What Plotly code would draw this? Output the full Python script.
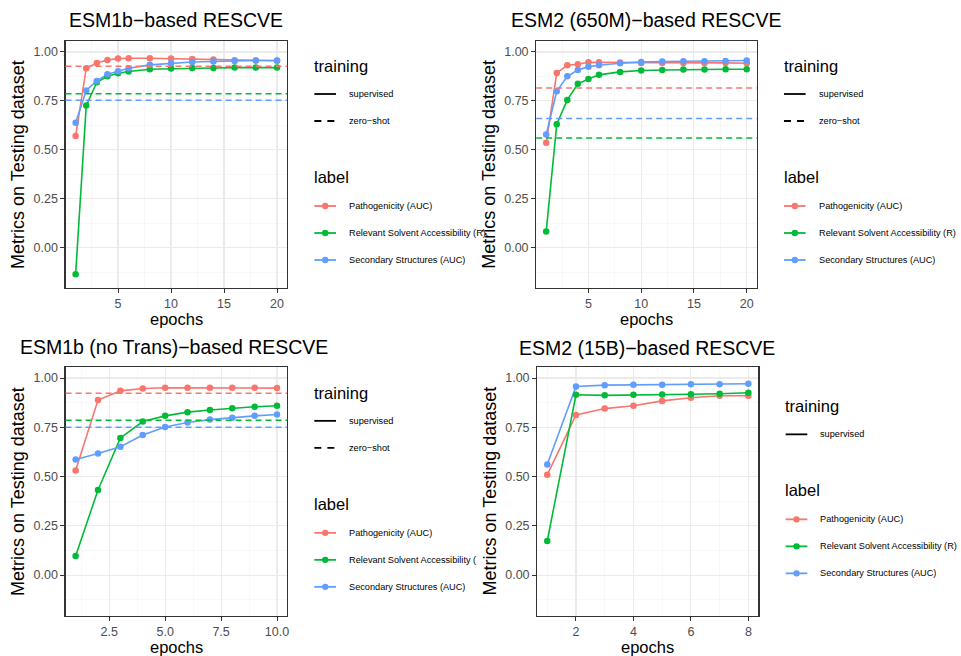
import plotly.graph_objects as go

W, H = 961, 656

# ---------------- data ----------------
labels = ["Pathogenicity (AUC)", "Relevant Solvent Accessibility (R)", "Secondary Structures (AUC)"]
colors = ["#F8766D", "#00BA38", "#619CFF"]

titles = ["ESM1b\u2212based RESCVE", "ESM2 (650M)\u2212based RESCVE",
          "ESM1b (no Trans)\u2212based RESCVE", "ESM2 (15B)\u2212based RESCVE"]

epochs_esm1b = [1, 2, 3, 4, 5, 6, 8, 10, 12, 14, 16, 18, 20]
esm1b_patho = [0.570, 0.917, 0.944, 0.959, 0.966, 0.968, 0.968, 0.966, 0.964, 0.961, 0.957, 0.956, 0.955]
esm1b_rsa = [-0.136, 0.726, 0.845, 0.876, 0.891, 0.900, 0.912, 0.915, 0.918, 0.918, 0.920, 0.920, 0.920]
esm1b_ss = [0.638, 0.803, 0.852, 0.886, 0.901, 0.917, 0.934, 0.942, 0.949, 0.951, 0.954, 0.956, 0.956]
esm1b_zeroshot = [0.927, 0.787, 0.753]

epochs_esm2_650m = [1, 2, 3, 4, 5, 6, 8, 10, 12, 14, 16, 18, 20]
esm2_650m_patho = [0.536, 0.893, 0.932, 0.937, 0.947, 0.947, 0.946, 0.944, 0.944, 0.944, 0.944, 0.944, 0.942]
esm2_650m_rsa = [0.083, 0.631, 0.755, 0.837, 0.862, 0.883, 0.898, 0.905, 0.908, 0.910, 0.910, 0.912, 0.912]
esm2_650m_ss = [0.578, 0.799, 0.876, 0.908, 0.925, 0.932, 0.942, 0.949, 0.951, 0.952, 0.952, 0.954, 0.956]
esm2_650m_zeroshot = [0.816, 0.560, 0.660]

epochs_notrans = [1, 2, 3, 4, 5, 6, 7, 8, 9, 10]
notrans_patho = [0.531, 0.888, 0.935, 0.947, 0.951, 0.951, 0.951, 0.951, 0.951, 0.949]
notrans_rsa = [0.097, 0.432, 0.696, 0.779, 0.808, 0.827, 0.838, 0.847, 0.854, 0.859]
notrans_ss = [0.587, 0.617, 0.651, 0.711, 0.752, 0.774, 0.789, 0.799, 0.808, 0.815]
notrans_zeroshot = [0.923, 0.786, 0.750]

epochs_esm2_15b = [1, 2, 3, 4, 5, 6, 7, 8]
esm2_15b_patho = [0.509, 0.813, 0.845, 0.859, 0.884, 0.900, 0.910, 0.910]
esm2_15b_rsa = [0.173, 0.915, 0.912, 0.915, 0.917, 0.918, 0.920, 0.925]
esm2_15b_ss = [0.561, 0.957, 0.964, 0.966, 0.966, 0.969, 0.969, 0.971]

y_tick_labels = ["0.00", "0.25", "0.50", "0.75", "1.00"]

panels = [
    dict(ep=epochs_esm1b, series=[esm1b_patho, esm1b_rsa, esm1b_ss], zs=esm1b_zeroshot,
         xr=[0.05, 20.95], dt=5, fmt="d"),
    dict(ep=epochs_esm2_650m, series=[esm2_650m_patho, esm2_650m_rsa, esm2_650m_ss], zs=esm2_650m_zeroshot,
         xr=[0.05, 20.95], dt=5, fmt="d"),
    dict(ep=epochs_notrans, series=[notrans_patho, notrans_rsa, notrans_ss], zs=notrans_zeroshot,
         xr=[0.55, 10.45], dt=2.5, fmt=".1f"),
    dict(ep=epochs_esm2_15b, series=[esm2_15b_patho, esm2_15b_rsa, esm2_15b_ss], zs=None,
         xr=[0.65, 8.35], dt=2, fmt="d"),
]

# ---------------- layout geometry (pixels) ----------------
boxes = [(65.7, 287.7, 40.7, 288.3), (537.3, 758.3, 40.7, 288.3),
         (65.7, 287.7, 366.7, 616.0), (538.3, 760.0, 366.7, 616.0)]
title_pos = [(66.7, 27.3), (510.0, 27.3), (18.3, 354.0), (518.3, 355.0)]

FONT = "Liberation Sans, Arial, Helvetica, sans-serif"


def px(x):
    return x / W


def py(y):
    return 1 - y / H


fig = go.Figure()
annotations = []
shapes = []

for i, p in enumerate(panels):
    n = "" if i == 0 else str(i + 1)
    xa, ya = "x" + n, "y" + n
    l, r, t, b = boxes[i]
    # lines first, then points (like ggplot layers)
    for k in range(3):
        fig.add_trace(go.Scatter(x=p["ep"], y=p["series"][k], mode="lines",
                                 line=dict(color=colors[k], width=1.6),
                                 xaxis=xa, yaxis=ya, showlegend=False, hoverinfo="skip"))
    for k in range(3):
        fig.add_trace(go.Scatter(x=p["ep"], y=p["series"][k], mode="markers",
                                 marker=dict(color=colors[k], size=6.5),
                                 xaxis=xa, yaxis=ya, showlegend=False, hoverinfo="skip"))
    if p["zs"] is not None:
        for k in range(3):
            shapes.append(dict(type="line", xref=xa + " domain", yref=ya, x0=0, x1=1,
                               y0=p["zs"][k], y1=p["zs"][k], layer="above",
                               line=dict(color=colors[k], width=1.5, dash="6px,4px")))

    common = dict(showline=True, mirror=True, linecolor="#333333", linewidth=1.1,
                  ticks="outside", ticklen=4, tickwidth=1, tickcolor="#333333",
                  zeroline=False, showgrid=True, gridcolor="#EBEBEB", gridwidth=1.1,
                  tickfont=dict(family=FONT, size=12.5, color="#4D4D4D"),
                  fixedrange=True)
    dt = p["dt"]
    x_minor = []
    m = dt / 2
    while m < p["xr"][1]:
        if m > p["xr"][0]:
            x_minor.append(m)
        m += dt
    fig.layout["xaxis" + n] = dict(domain=[px(l), px(r)], range=p["xr"], anchor=ya,
                                   tickmode="linear", tick0=0, dtick=dt, tickformat=p["fmt"],
                                   minor=dict(tickmode="array", tickvals=x_minor, showgrid=True,
                                              gridcolor="#F3F3F3", gridwidth=0.6),
                                   **common)
    fig.layout["yaxis" + n] = dict(domain=[py(b), py(t)], range=[-0.2075, 1.0575], anchor=xa,
                                   tickmode="array", tickvals=[0, 0.25, 0.5, 0.75, 1.0],
                                   ticktext=y_tick_labels,
                                   minor=dict(tickmode="array",
                                              tickvals=[-0.125, 0.125, 0.375, 0.625, 0.875],
                                              showgrid=True, gridcolor="#F3F3F3", gridwidth=0.6),
                                   **common)

    # title
    tx, tb = title_pos[i]
    annotations.append(dict(text=titles[i], x=px(tx), y=py(tb - 0.35 * 19.5), xref="paper", yref="paper",
                            xanchor="left", yanchor="middle", showarrow=False,
                            font=dict(family=FONT, size=19.5, color="black")))
    # axis titles
    cy = (t + b) / 2
    annotations.append(dict(text="epochs", x=px((l + r) / 2), y=py(b + 36.7 - 0.35 * 16.5),
                            xref="paper", yref="paper", xanchor="center", yanchor="middle",
                            showarrow=False, font=dict(family=FONT, size=16.5, color="black")))
    annotations.append(dict(text="Metrics on Testing dataset", x=px(l - 47.1), y=py(cy),
                            xref="paper", yref="paper", xanchor="center", yanchor="middle",
                            textangle=-90, showarrow=False,
                            font=dict(family=FONT, size=18, color="black")))

    # legend (drawn as text + key shapes)
    train_items = [("supervised", "solid")] + ([("zero\u2212shot", "7px,6px")] if p["zs"] is not None else [])
    nt = len(train_items)
    y_title = cy - 85 - 13.5 * (nt - 1)
    k0, k1, km, tx0, ttx = r + 27.3, r + 49.0, r + 38.2, r + 60.0, r + 25.0
    annotations.append(dict(text="training", x=px(ttx), y=py(y_title), xref="paper", yref="paper",
                            xanchor="left", yanchor="middle", showarrow=False,
                            font=dict(family=FONT, size=16.5, color="black")))
    yy = y_title + 28
    for name, dash in train_items:
        shapes.append(dict(type="line", xref="paper", yref="paper", x0=px(k0), x1=px(k1),
                           y0=py(yy), y1=py(yy), line=dict(color="black", width=1.8, dash=dash)))
        annotations.append(dict(text=name, x=px(tx0), y=py(yy), xref="paper", yref="paper",
                                xanchor="left", yanchor="middle", showarrow=False,
                                font=dict(family=FONT, size=9.2, color="black")))
        yy += 27
    y_label = yy - 27 + 56
    annotations.append(dict(text="label", x=px(ttx), y=py(y_label), xref="paper", yref="paper",
                            xanchor="left", yanchor="middle", showarrow=False,
                            font=dict(family=FONT, size=16.5, color="black")))
    yy = y_label + 29
    for k in range(3):
        name = labels[k]
        if i == 2 and k == 1:
            name = "Relevant Solvent Accessibility ("
        shapes.append(dict(type="line", xref="paper", yref="paper", x0=px(k0), x1=px(k1),
                           y0=py(yy), y1=py(yy), line=dict(color=colors[k], width=1.8)))
        rr = 3.2
        shapes.append(dict(type="circle", xref="paper", yref="paper",
                           x0=px(km - rr), x1=px(km + rr), y0=py(yy + rr), y1=py(yy - rr),
                           fillcolor=colors[k], line=dict(width=0)))
        annotations.append(dict(text=name, x=px(tx0), y=py(yy), xref="paper", yref="paper",
                                xanchor="left", yanchor="middle", showarrow=False,
                                font=dict(family=FONT, size=9.2, color="black")))
        yy += 27

fig.update_layout(width=W, height=H, margin=dict(l=0, r=0, t=0, b=0),
                  paper_bgcolor="white", plot_bgcolor="white",
                  annotations=annotations, shapes=shapes, hovermode=False,
                  font=dict(family=FONT))

fig.write_html("out.html", config={"displayModeBar": False, "staticPlot": True},
               post_script="document.body.style.margin='0px';document.body.style.overflow='hidden';")
